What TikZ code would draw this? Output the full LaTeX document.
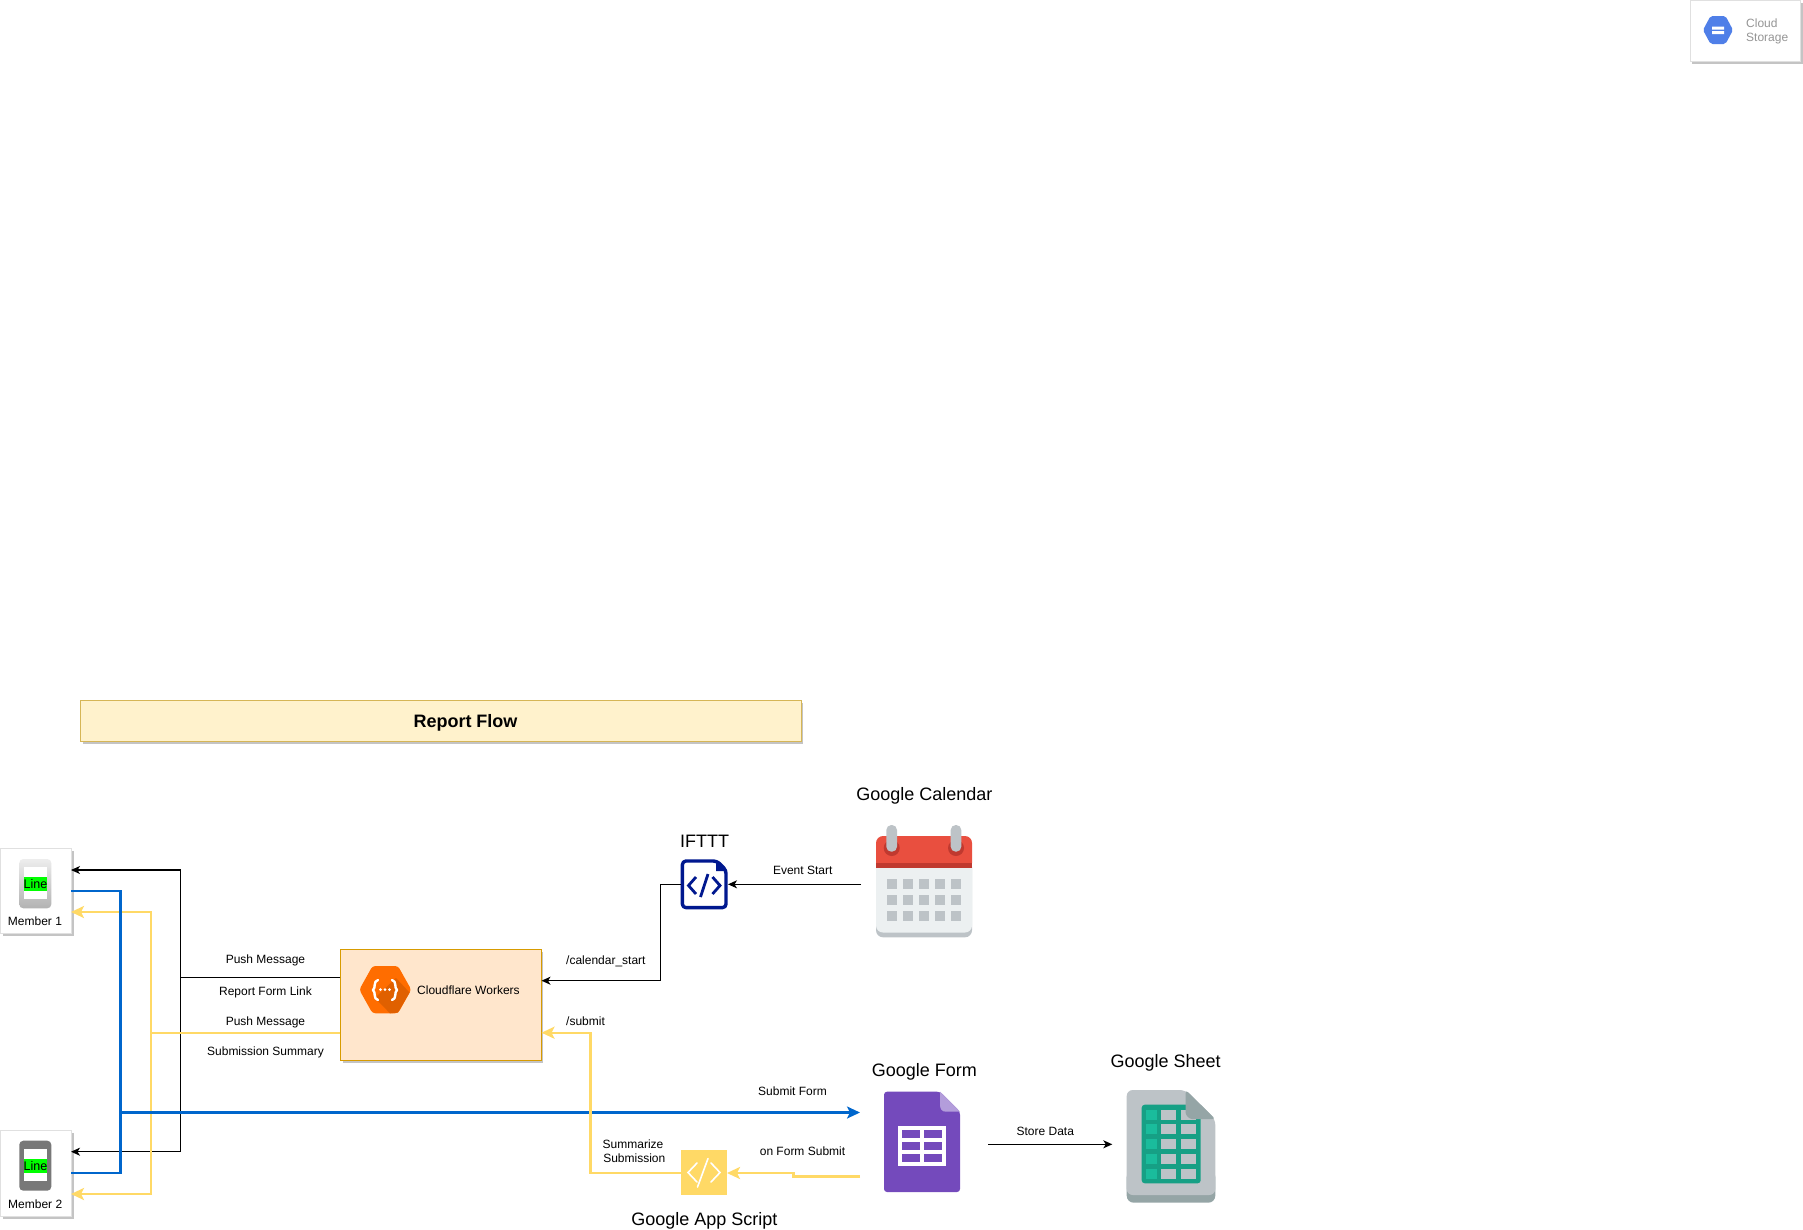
\documentclass[tikz,border=0pt]{standalone}
\usepackage{fontspec}
\setmainfont{Liberation Sans}
\usetikzlibrary{arrows.meta,shadings}
\definecolor{flowblue}{HTML}{0066CC}
\definecolor{flowyellow}{HTML}{FFD966}
\definecolor{shadowgray}{HTML}{C4C4C4}
\definecolor{calred}{HTML}{E94F3F}
\definecolor{caldark}{HTML}{C0392F}
\definecolor{calgray}{HTML}{BDC3C7}
\definecolor{calpale}{HTML}{ECF0F1}
\definecolor{formpurple}{HTML}{744ABC}
\definecolor{formpale}{HTML}{B39DDB}
\definecolor{sheetgreen}{HTML}{16A085}
\definecolor{sheetlight}{HTML}{1ABC9C}
\definecolor{sheetdark}{HTML}{95A5A6}
\definecolor{cforange}{HTML}{FF6D00}
\definecolor{cfdark}{HTML}{E06000}
\definecolor{gblue}{HTML}{4F7FE8}
\definecolor{iftttblue}{HTML}{00188F}
\definecolor{cfline}{HTML}{D79B00}
\definecolor{cffill}{HTML}{FFE6CC}
\definecolor{titleline}{HTML}{D6B656}
\definecolor{titlefill}{HTML}{FFF2CC}
\definecolor{csgray}{HTML}{959595}
\tikzset{
  x=1pt,y=-1pt,
  lbl/.style={inner sep=0pt,font=\fontsize{12}{13.7}\selectfont,align=center,text=black},
  ttl/.style={inner sep=0pt,font=\fontsize{18}{21}\selectfont,text=black},
  panel/.style={draw=#1,line width=1pt,inner sep=0pt,anchor=north west},
  shadowbar/.style={fill=shadowgray,draw=none},
  blackline/.style={draw=black,line width=1.15pt},
  blackarrow/.style={blackline,-{Stealth[length=9pt,width=8pt,inset=2.5pt]}},
  blueline/.style={draw=flowblue,line width=2.4pt},
  bluearrow/.style={blueline,-{Stealth[length=13pt,width=12pt,inset=3pt]}},
  yellowline/.style={draw=flowyellow,line width=2.4pt},
  yellowarrow/.style={yellowline,-{Stealth[length=13pt,width=12pt,inset=3pt]}},
}
\begin{document}
\begin{tikzpicture}
\useasboundingbox (0,0) rectangle (1803,1229);
% shadows
\fill[shadowbar] (2.5,851) rectangle (73.5,936);
\fill[shadowbar] (2.5,1133) rectangle (73.5,1219);
\fill[shadowbar] (342.5,952) rectangle (543,1063);
\fill[shadowbar] (82.5,703) rectangle (803,743.5);
\fill[shadowbar] (1692,3) rectangle (1802.5,64);
% boxes
\node[panel=black!12,fill=white,minimum width=71pt,minimum height=85pt] (m1) at (0,848) {};
\node[panel=black!12,fill=white,minimum width=71pt,minimum height=86pt] (m2) at (0,1130) {};
\node[panel=cfline,fill=cffill,line width=1.15pt,minimum width=200.4pt,minimum height=110.7pt] (cf) at (340.3,949.3) {};
\node[panel=titleline,fill=titlefill,line width=1.15pt,minimum width=720.5pt,minimum height=40.5pt] (title) at (80,700) {};
\node[inner sep=0pt,font=\fontsize{18}{21}\selectfont\bfseries] (titletext) at (465.5,722.5) {Report Flow};
\node[panel=black!12,fill=white,minimum width=110pt,minimum height=61pt] (cs) at (1690,0) {};
% cloud storage icon
\fill[gblue,rounded corners=2pt] (1703,30) -- (1710.5,16) -- (1725.5,16) -- (1733,30) -- (1725.5,44) -- (1710.5,44) -- cycle;
\fill[white] (1712,26.5) rectangle (1724,29.5) (1712,31) rectangle (1724,34);
\node[inner sep=0pt,anchor=west,align=left,text=csgray,font=\fontsize{12}{14.3}\selectfont] (cstext) at (1746,31.5) {Cloud\\Storage};
% phones
\shade[top color=black!7,bottom color=black!30,rounded corners=4pt] (19.3,859) rectangle (51.3,908.3);
\fill[white] (24,867.3) rectangle (47,899.3);
\node[fill=green,inner sep=0pt,minimum width=23pt,minimum height=13.7pt,font=\fontsize{12.5}{14}\selectfont] (line1) at (35.5,884.2) {Line};
\node[lbl] (m1text) at (35,921.5) {Member 1};
\fill[black!53,rounded corners=4pt] (19.3,1140.7) rectangle (51.3,1190.7);
\fill[white] (24,1149.3) rectangle (47,1181);
\node[fill=green,inner sep=0pt,minimum width=23pt,minimum height=13.7pt,font=\fontsize{12.5}{14}\selectfont] (line2) at (35.5,1166) {Line};
\node[lbl] (m2text) at (35.2,1204) {Member 2};
% cloudflare icon
\fill[cforange,rounded corners=3pt] (359.3,989.7) -- (372.5,966) -- (398,966) -- (411.3,989.7) -- (398,1013.3) -- (372.5,1013.3) -- cycle;
\fill[cfdark] (375,998) -- (396,978) -- (409.5,992.5) -- (398,1012.5) -- (390,1013.3) -- cycle;
\draw[white,line width=2.4pt,line cap=round,line join=round] (378,980) .. controls (373,981) and (376,988) .. (373,990) .. controls (376,992) and (373,999) .. (378,1000);
\draw[white,line width=2.4pt,line cap=round,line join=round] (392,980) .. controls (397,981) and (394,988) .. (397,990) .. controls (394,992) and (397,999) .. (392,1000);
\fill[white] (380.5,989.7) circle (1.5) (385,989.7) circle (1.5) (389.5,989.7) circle (1.5);
\node[lbl,anchor=west] (cftext) at (417,989.9) {Cloudflare Workers};
% ifttt
\node[ttl] (iftttlabel) at (704.5,841) {IFTTT};
\node[inner sep=0pt,minimum width=47pt,minimum height=50pt] (ifttt) at (704.2,884.3) {};
\draw[iftttblue,fill=white,line width=3.4pt,rounded corners=3.5pt,line join=round] (682.4,861) -- (717,861) -- (726,870) -- (726,907.6) -- (682.4,907.6) -- cycle;
\fill[iftttblue] (716,860) -- (727.5,871) -- (716,871) -- cycle;
\draw[iftttblue,line width=2.8pt] (696,877) -- (688.5,885.5) -- (696,894) (712.5,877) -- (720,885.5) -- (712.5,894) (708,874) -- (700.5,897);
% gas
\node[fill=flowyellow,inner sep=0pt,minimum width=45.4pt,minimum height=45pt] (gas) at (704,1172.8) {};
\draw[white,line width=1.6pt,line cap=round] (697,1163) -- (688,1172.5) -- (697,1182) (711,1163) -- (720,1172.5) -- (711,1182) (708,1158.5) -- (697.5,1187);
\node[ttl] (gaslabel) at (704.3,1220.5) {Google App Script};
% calendar
\node[ttl] (callabel) at (924.3,795.5) {Google Calendar};
\fill[calgray,rounded corners=7pt] (876,860) rectangle (972,937.3);
\fill[calpale,rounded corners=7pt] (876,860) rectangle (972,932.5);
\fill[calred,rounded corners=7pt] (876,836) rectangle (972,870);
\fill[calred] (876,850) rectangle (972,863.3);
\fill[caldark] (876,863.3) rectangle (972,868);
\fill[calpale] (876,868) rectangle (972,880);
\fill[caldark] (891.7,848) circle (8) (956,848) circle (8);
\fill[calgray,rounded corners=5pt] (886.3,825) rectangle (897,851.7);
\fill[calgray,rounded corners=5pt] (950.7,825) rectangle (961.3,851.7);
\foreach \cx in {886.7,902.7,918.7,934.7,950.7}
  \foreach \cy in {878.7,894.7,910.7}
    \fill[calgray] (\cx,\cy) rectangle +(10.7,10.7);
\coordinate (calport) at (861,884.3);
% form
\node[ttl] (formlabel) at (924.3,1072) {Google Form};
\fill[formpurple,rounded corners=3pt] (884,1091.7) -- (940,1091.7) -- (960,1111.7) -- (960,1192) -- (884,1192) -- cycle;
\fill[formpale] (940,1091.7) -- (960,1111.7) -- (946,1111.7) .. controls (942,1111.7) and (940,1109) .. (940,1105) -- cycle;
\fill[white] (898,1126) rectangle (946,1166);
\foreach \cx in {902,924}
  \foreach \cy in {1130,1142,1154}
    \fill[formpurple] (\cx,\cy) rectangle +(18,8);
\coordinate (formsubmit) at (860,1112.5);
\coordinate (formtrigger) at (860,1176.3);
\coordinate (formout) at (988.3,1144.3);
% sheet
\node[ttl] (sheetlabel) at (1165.7,1062.5) {Google Sheet};
\fill[sheetdark,rounded corners=7pt] (1126.7,1170) -- (1215.3,1170) -- (1215.3,1202.7) -- (1126.7,1202.7) -- cycle;
\fill[calgray,rounded corners=6pt] (1126.7,1090) -- (1185.7,1090) -- (1215.3,1119) -- (1215.3,1195) -- (1126.7,1195) -- cycle;
\fill[sheetgreen,rounded corners=3pt] (1141.7,1104.7) rectangle (1200.7,1183.3);
\foreach \cy in {1109.7,1124.3,1139,1153.7,1168.7} {
  \fill[sheetlight] (1146,\cy) rectangle +(10.7,10);
  \fill[calgray] (1161,\cy) rectangle +(15.3,10);
  \fill[calgray] (1180.7,\cy) rectangle +(15.3,10);
}
\fill[sheetdark,rounded corners=3pt] (1185.7,1090) -- (1215.3,1119) -- (1195,1119) .. controls (1189,1119) and (1185.7,1115) .. (1185.7,1110) -- cycle;
\coordinate (sheetport) at (1112.3,1144.3);
% port coordinates
\coordinate (m1a) at (71,870);
\coordinate (m1b) at (71,891);
\coordinate (m1c) at (71,912);
\coordinate (m2a) at (71,1151.7);
\coordinate (m2b) at (71,1172.7);
\coordinate (m2c) at (71,1194);
\coordinate (busb) at (180.5,977.5);
\coordinate (cfa) at (340.3,977.5);
\coordinate (busy) at (150.7,1032.7);
\coordinate (cfy) at (340.3,1032.7);
\coordinate (busblue) at (120.5,1112.5);
\coordinate (cfin1) at (541.5,980.7);
\coordinate (cfin2) at (541.5,1032.7);
\coordinate (iftttout) at (680.7,884.3);
\coordinate (iftttin) at (728,884.3);
\coordinate (gasout) at (681.3,1173);
\coordinate (gasin) at (727,1173);
% connectors
\draw[blackline] (cfa) -- (busb);
\draw[blackarrow] (busb) |- (m1a);
\draw[blackarrow] (busb) |- (m2a);
\draw[yellowline] (cfy) -- (busy);
\draw[yellowarrow] (busy) |- (m1c);
\draw[yellowarrow] (busy) |- (m2c);
\draw[blueline] (m1b) -| (busblue) |- (m2b);
\draw[bluearrow] (busblue) -- (formsubmit);
\draw[blackarrow] (iftttout) -| (660.7,980.7) -- (cfin1);
\draw[blackarrow] (calport) -- (iftttin);
\draw[yellowarrow] (gasout) -| (590.3,1032.7) -- (cfin2);
\draw[yellowarrow] (formtrigger) -| (793.5,1173) -- (gasin);
\draw[blackarrow] (formout) -- (sheetport);
% labels
\node[lbl] (l1) at (265.5,960) {Push Message};
\node[lbl] (l2) at (265.5,992) {Report Form Link};
\node[lbl] (l3) at (265.5,1022) {Push Message};
\node[lbl] (l4) at (265.5,1052) {Submission Summary};
\node[lbl,anchor=west] (l5) at (566,961) {/calendar\_start};
\node[lbl,anchor=west] (l6) at (566,1020.9) {/submit};
\node[lbl] (l7) at (802.7,870.5) {Event Start};
\node[lbl] (l8) at (792.5,1091) {Submit Form};
\node[lbl] (l9) at (802.5,1151) {on Form Submit};
\node[lbl] (l10) at (1045.3,1131.2) {Store Data};
\node[lbl] (l11a) at (633,1144.2) {Summarize};
\node[lbl] (l11b) at (634.3,1158) {Submission};
\end{tikzpicture}
\end{document}
